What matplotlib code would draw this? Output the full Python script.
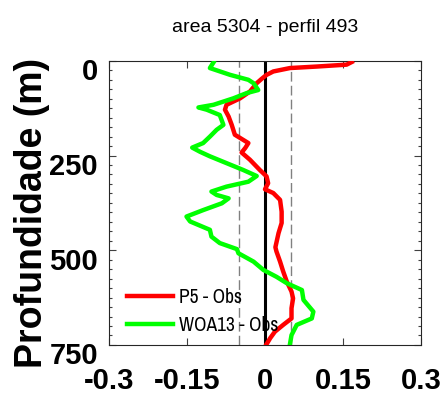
import matplotlib
matplotlib.use('Agg')
import matplotlib.pyplot as plt
import matplotlib.transforms as mtransforms
from matplotlib.ticker import MultipleLocator

plt.rcParams['axes.unicode_minus'] = False

# P5 - Obs difference profile (value, depth in m)
p5_diff = [0.167, 0.157, 0.100, 0.048, 0.016, 0.003, -0.006, -0.016, -0.029, -0.048,
           -0.074, -0.077, -0.070, -0.064, -0.058, -0.032, -0.038, -0.045, -0.029, -0.010,
           0.003, 0.006, 0.000, 0.016, 0.029, 0.032, 0.032, 0.026, 0.020, 0.022,
           0.029, 0.035, 0.042, 0.051, 0.054, 0.051, 0.051, 0.035, 0.019, 0.010, 0.003]
p5_depth = [3, 10, 15, 19, 28, 37, 47, 59, 81, 99,
            116, 129, 147, 169, 195, 217, 230, 242, 261, 288,
            305, 323, 339, 349, 367, 398, 428, 455, 492, 503,
            530, 556, 583, 609, 627, 653, 680, 697, 715, 732, 748]

# WOA13 - Obs difference profile
woa_diff = [-0.099, -0.106, -0.067, -0.032, -0.022, -0.013, -0.035, -0.061, -0.099, -0.128,
            -0.112, -0.087, -0.080, -0.093, -0.106, -0.119, -0.140, -0.125, -0.106, -0.074,
            -0.042, -0.016, -0.032, -0.074, -0.103, -0.093, -0.070, -0.083, -0.119, -0.151,
            -0.144, -0.106, -0.103, -0.087, -0.054, -0.051, -0.022, -0.003, 0.022, 0.042,
            0.071, 0.074, 0.093, 0.090, 0.061, 0.051, 0.048]
woa_depth = [4, 19, 37, 50, 59, 77, 85, 99, 116, 123,
             129, 143, 169, 182, 200, 217, 229, 240, 252, 270,
             288, 304, 319, 332, 345, 354, 363, 376, 394, 411,
             424, 446, 464, 481, 497, 508, 530, 552, 570, 587,
             605, 631, 662, 680, 697, 724, 748]

x_ticks = [-0.3, -0.15, 0, 0.15, 0.3]
x_ticklabels = ['-0.3', '-0.15', '0', '0.15', '0.3']
y_ticks = [0, 250, 500, 750]
threshold = 0.05

sans = ['Liberation Sans', 'DejaVu Sans']
narrow = ['Liberation Sans Narrow', 'Archivo Narrow', 'Liberation Sans', 'DejaVu Sans']

fig = plt.figure(figsize=(4.45, 4.03), dpi=100)
ax = fig.add_axes([0.245, 0.144, 0.701, 0.705])

ax.axvline(-threshold, color='#808080', lw=1.0, ls=(0, (7, 3)))
ax.axvline(threshold, color='#808080', lw=1.0, ls=(0, (7, 3)))
ax.axvline(0, color='black', lw=2.2)

ax.plot(p5_diff, p5_depth, color='#ff0000', lw=3.2, label='P5 - Obs', zorder=3)
ax.plot(woa_diff, woa_depth, color='#00ff00', lw=3.2, label='WOA13 - Obs', zorder=3)

ax.set_xlim(-0.3, 0.3)
ax.set_ylim(750, 0)
ax.set_xticks(x_ticks)
ax.set_xticklabels(x_ticklabels)
ax.set_yticks(y_ticks)
ax.yaxis.set_minor_locator(MultipleLocator(25))

ax.tick_params(which='both', direction='in', top=True, right=True, color='#404040', width=0.8)
ax.tick_params(which='major', length=5)
ax.tick_params(which='minor', length=2.5)
ax.tick_params(axis='x', pad=16)
ax.tick_params(axis='y', pad=8)
for s in ax.spines.values():
    s.set_color('#262626')
    s.set_linewidth(0.8)

for lab in ax.get_xticklabels() + ax.get_yticklabels():
    lab.set_family(sans)
    lab.set_fontweight('bold')
    lab.set_fontsize(21)

# nudge the depth labels slightly down
shift = mtransforms.ScaledTranslation(0, -6 / 72, fig.dpi_scale_trans)
for lab in ax.get_yticklabels():
    lab.set_transform(lab.get_transform() + shift)

ax.text(0.5, 1.1, 'area 5304 - perfil 493', transform=ax.transAxes, ha='center',
        va='baseline', fontsize=14, family=sans)

fig.text(0.072, 1 - 213 / 403, 'Profundidade (m)', rotation=90, ha='center', va='center',
         fontsize=27, fontweight='bold', family=sans)

leg = ax.legend(loc='lower left', bbox_to_anchor=(0.0, -0.025), frameon=False,
                handlelength=2.4, handletextpad=0.3, labelspacing=0.45,
                prop={'family': narrow, 'size': 14})

fig.savefig('out.png', dpi=100)
